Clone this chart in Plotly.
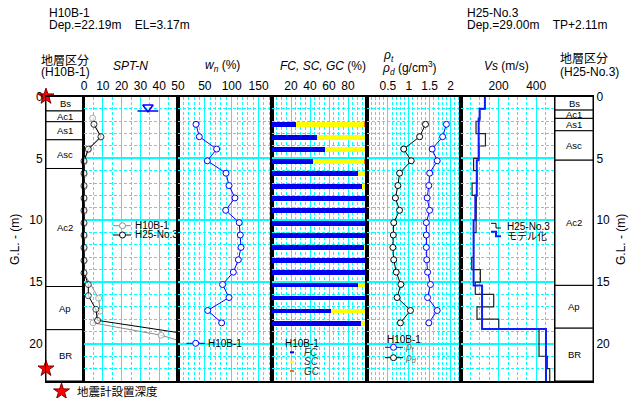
import plotly.graph_objects as go

W, H = 629, 398

# ---------------- data ----------------
depth_max = 23
depth_ticks = [0, 5, 10, 15, 20]

strata_L_names = ["Bs", "Ac1", "As1", "Asc", "Ac2", "Ap", "BR"]
strata_L_tops = [0, 1.17, 2.04, 3.5, 5.82, 15.36, 18.85]
strata_R_names = ["Bs", "Ac1", "As1", "Asc", "Ac2", "Ap", "BR"]
strata_R_tops = [0, 1.1, 1.77, 2.77, 5.15, 15.27, 18.73]

seismometer_depths = [0, 22.0]

# SPT-N
spt_h10_depth = [1.75, 2.25, 3.3, 4.3, 5.3, 6.3, 7.3, 8.3, 9.3, 10.3, 11.3, 12.3, 13.3, 14.3, 16.3, 17.35, 18.3, 19.3, 20.3]
spt_h10_N = [4.6, 5.3, 9, 2.3, 0, 0, 0, 0, 0, 0, 0, 0, 0, 0, 7.8, 8.5, 4.8, 41, 63]
spt_h25_depth = [2.25, 3.25, 4.25, 5.2, 6.2, 7.2, 8.2, 9.2, 10.2, 11.2, 12.2, 13.25, 14.25, 15.2, 16.1, 17.2, 18.1, 19.2]
spt_h25_N = [5.3, 9, 2.3, 0, 0, 0, 0, 0, 0, 0, 0, 0, 0, 2.3, 2.3, 6.3, 7.2, 55]
water_level_depth = 1.17
water_level_N = 34

# laboratory tests (H10B-1)
lab_depth = [2.25, 3.25, 4.25, 5.2, 6.2, 7.2, 8.2, 9.2, 10.2, 11.2, 12.2, 13.2, 14.2, 15.2, 16.25, 17.3, 18.3]
wn = [33.5, 39.7, 72, 54.6, 89.4, 95, 106, 88.8, 114, 116, 117.3, 112.4, 103, 83, 95, 55.3, 81.3]
FC = [25, 47, 56, 43, 91, 95, 99, 99, 99, 99, 97, 99, 99, 91, 99, 62, 94]
SC = [72, 53, 44, 54, 9, 4, 1, 1, 1, 1, 3, 1, 1, 9, 1, 38, 6]
GC = [3, 0, 0, 3, 0, 1, 0, 0, 0, 0, 0, 0, 0, 0, 0, 0, 0]
rho_t = [1.90, 1.81, 1.56, 1.68, 1.50, 1.48, 1.44, 1.50, 1.42, 1.42, 1.42, 1.43, 1.45, 1.52, 1.45, 1.68, 1.48]
rho_d = [1.40, 1.26, 0.88, 1.06, 0.78, 0.74, 0.68, 0.78, 0.64, 0.63, 0.62, 0.64, 0.70, 0.81, 0.72, 1.04, 0.80]

# Vs (H25-No.3)
vs_meas_tops = [0, 1, 2, 3, 4, 5, 6, 7, 8, 9, 10, 11, 12, 13, 14, 15, 16, 17, 18, 18.8, 21, 22]
vs_meas = [127, 100, 80, 130, 95, 67, 85, 59, 82, 82, 80, 67, 67, 57, 103, 76, 174, 85, 201, 415, 459, 472]
vs_model_tops = [0, 1.0, 1.77, 5.15, 8.0, 10.0, 15.27, 18.8]
vs_model = [127, 99, 94, 84, 76, 67, 112, 452]

# ---------------- helpers ----------------
CYAN = "#00FFFF"
DASH = "3px,2px"
FONT = "Arial, Liberation Sans, Noto Sans CJK JP, sans-serif"
JFONT = "Noto Sans CJK JP, Liberation Sans, sans-serif"


def px(x):
    return x / W


def py(y):
    return 1 - y / H


def step_xy(tops, vals, bottom):
    bots = list(tops[1:]) + [bottom]
    xs, ys = [], []
    for t, b, v in zip(tops, bots, vals):
        xs += [v, v]
        ys += [t, b]
    return xs, ys


y_dom = [py(381), py(96.5)]
edges = [46, 84, 178, 272, 367, 461, 555, 593]

fig = go.Figure()

shapes = []
annotations = []


def strata(tops, names, xr, yr, xpix):
    bots = list(tops[1:]) + [depth_max]
    for t, b, n in zip(tops, bots, names):
        shapes.append(dict(type="rect", xref=xr, yref=yr, x0=0, x1=1, y0=t, y1=b,
                           line=dict(color="black", width=1), fillcolor="white", layer="below"))
        annotations.append(dict(text=n, xref="paper", yref=yr, x=px(xpix), y=(t + b) / 2,
                                showarrow=False, font=dict(size=9.5, family=FONT, color="black"),
                                xanchor="center", yanchor="middle"))


strata(strata_L_tops, strata_L_names, "x", "y", 65)
strata(strata_R_tops, strata_R_names, "x7", "y7", 574)

# seismometer stars
fig.add_trace(go.Scatter(x=[0] * len(seismometer_depths), y=seismometer_depths, mode="markers",
                         marker=dict(symbol="star", size=12, color="red", line=dict(color="#800000", width=1)),
                         cliponaxis=False, xaxis="x", yaxis="y", showlegend=False))

# ---------- SPT-N ----------
for d, n, col in [(spt_h10_depth, spt_h10_N, "#8c8c8c"), (spt_h25_depth, spt_h25_N, "black")]:
    sizes = [6 if v <= 50 else 0 for v in n]
    fig.add_trace(go.Scatter(x=n, y=d, mode="lines+markers", xaxis="x2", yaxis="y2",
                             line=dict(color=col, width=1),
                             marker=dict(symbol="circle", size=sizes, color="white", line=dict(color=col, width=1)),
                             cliponaxis=False, showlegend=False))
# water level
fig.add_trace(go.Scatter(x=[water_level_N - 5.5, water_level_N + 5.5], y=[water_level_depth] * 2, mode="lines",
                         line=dict(color="blue", width=1.5), xaxis="x2", yaxis="y2", showlegend=False))
fig.add_trace(go.Scatter(x=[water_level_N], y=[water_level_depth - 0.3], mode="markers",
                         marker=dict(symbol="triangle-down-open", size=9, color="blue", line=dict(width=1.5)),
                         xaxis="x2", yaxis="y2", showlegend=False))

# ---------- wn ----------
fig.add_trace(go.Scatter(x=wn, y=lab_depth, mode="lines+markers", xaxis="x3", yaxis="y3",
                         line=dict(color="blue", width=1),
                         marker=dict(size=6, color="white", line=dict(color="blue", width=1)),
                         cliponaxis=False, showlegend=False))

# ---------- FC SC GC ----------
for vals, col in [(FC, "#0000F0"), (SC, "#FFFF00"), (GC, "#FF6A00")]:
    fig.add_trace(go.Bar(x=vals, y=lab_depth, orientation="h", width=0.4, marker=dict(color=col, line=dict(width=0)),
                         xaxis="x4", yaxis="y4", showlegend=False))

# ---------- rho ----------
for vals, col in [(rho_d, "black"), (rho_t, "blue")]:
    fig.add_trace(go.Scatter(x=vals, y=lab_depth, mode="lines+markers", xaxis="x5", yaxis="y5",
                             line=dict(color=col, width=1),
                             marker=dict(size=6, color="white", line=dict(color=col, width=1)),
                             cliponaxis=False, showlegend=False))

# ---------- Vs ----------
mx, my = step_xy(vs_meas_tops, vs_meas, depth_max)
fig.add_trace(go.Scatter(x=mx, y=my, mode="lines", line=dict(color="#202020", width=1.2),
                         xaxis="x6", yaxis="y6", showlegend=False))
bx, by = step_xy(vs_model_tops, vs_model, depth_max)
fig.add_trace(go.Scatter(x=bx, y=by, mode="lines", line=dict(color="#0A1EFF", width=2),
                         xaxis="x6", yaxis="y6", showlegend=False))


# ---------- legend samples (overlay pixel axis) ----------
def leg_line(x0, x1, y, col, w=1, marker=None):
    fig.add_trace(go.Scatter(x=[x0, x1], y=[y, y], mode="lines", line=dict(color=col, width=w),
                             xaxis="x8", yaxis="y8", showlegend=False, cliponaxis=False))
    if marker is not None:
        fig.add_trace(go.Scatter(x=[marker], y=[y], mode="markers",
                                 marker=dict(size=6, color="white", line=dict(color=col, width=1)),
                                 xaxis="x8", yaxis="y8", showlegend=False, cliponaxis=False))


leg_line(113, 131, 225.7, "#8c8c8c", 1, 122.5)
leg_line(113, 131, 235, "black", 1, 122.5)
leg_line(186.5, 205, 343.3, "blue", 1, 195.7)
leg_line(290, 294, 352.3, "#0000F0", 2)
leg_line(290, 294, 361.7, "#FFFF00", 2)
leg_line(290, 294, 371, "#FF6A00", 2)
leg_line(385, 403, 347.3, "blue", 1, 393.5)
leg_line(385, 403, 357.7, "black", 1, 393.5)
fig.add_trace(go.Scatter(x=[491, 496, 496, 501], y=[223.3, 223.3, 228, 228], mode="lines",
                         line=dict(color="black", width=1), xaxis="x8", yaxis="y8", showlegend=False))
fig.add_trace(go.Scatter(x=[491, 496, 496, 501], y=[231.7, 231.7, 236.3, 236.3], mode="lines",
                         line=dict(color="#0A1EFF", width=2), xaxis="x8", yaxis="y8", showlegend=False))
fig.add_trace(go.Scatter(x=[61.5], y=[391.5], mode="markers",
                         marker=dict(symbol="star", size=12, color="red", line=dict(color="#800000", width=1)),
                         xaxis="x8", yaxis="y8", showlegend=False, cliponaxis=False))


def ann(text, x, y, size=12, xanchor="center", color="black", family=FONT, angle=0):
    annotations.append(dict(text=text, xref="paper", yref="paper", x=px(x), y=py(y), showarrow=False,
                            xanchor=xanchor, yanchor="middle", textangle=angle,
                            font=dict(size=size, color=color, family=family)))


NB = "\u00a0"
ann("H10B-1", 46.5, 13, xanchor="left")
ann("Dep.=22.19m" + NB * 4 + "EL=3.17m", 46.5, 25, xanchor="left")
ann("H25-No.3", 465, 13, xanchor="left")
ann("Dep.=29.00m" + NB * 4 + "TP+2.11m", 465, 25, xanchor="left")

ann("地層区分", 65, 59, family=JFONT)
ann("(H10B-1)", 65, 71.5)
ann("<i>SPT-N</i>", 130, 66)
ann("<i>w</i><sub><i>n</i></sub> (%)", 222, 66)
ann("<i>FC, SC, GC</i> (%)", 322.5, 66)
ann("<i>ρ<sub>t</sub></i>", 381, 56, xanchor="left")
ann("<i>ρ<sub>d</sub></i> (g/cm<sup>3</sup>)", 380, 68, xanchor="left")
ann("<i>Vs</i> (m/s)", 506, 66)
ann("地層区分", 558, 58, xanchor="left", family=JFONT)
ann("(H25-No.3)", 557.5, 72, xanchor="left")

ann("G.L. - (m)", 15, 240, angle=-90)
ann("G.L. - (m)", 621, 240, angle=-90)

ann("H10B-1", 132.5, 225.7, size=10, xanchor="left")
ann("H25-No.3", 132.5, 235, size=10, xanchor="left")
ann("H10B-1", 205.5, 343.3, size=10, xanchor="left")
ann("H10B-1", 283, 343.3, size=10, xanchor="left")
ann("<i>FC</i>", 301.5, 352.3, size=10, xanchor="left", color="#333")
ann("<i>SC</i>", 301.5, 361.7, size=10, xanchor="left", color="#333")
ann("<i>GC</i>", 301.5, 371, size=10, xanchor="left", color="#333")
ann("H10B-1", 384.5, 339, size=10, xanchor="left")
ann("<i>ρ<sub>t</sub></i>", 403, 347.3, size=10, xanchor="left", color="#666")
ann("<i>ρ<sub>d</sub></i>", 403, 357.7, size=10, xanchor="left", color="#666")
ann("H25-No.3", 504.5, 226.5, size=10, xanchor="left")
ann("モデル化", 504.5, 235.5, size=10, xanchor="left", family=JFONT)
ann("地震計設置深度", 74.5, 390.5, size=11.5, xanchor="left", family=JFONT)

# ---------------- axes ----------------
layout = dict(template="none", width=W, height=H, margin=dict(l=0, r=0, t=0, b=0, pad=0), autosize=False,
              paper_bgcolor="white", plot_bgcolor="rgba(0,0,0,0)", barmode="stack", bargap=0, showlegend=False,
              font=dict(family=FONT, size=12, color="black"))


def fmt(v):
    return ("%g" % v)


def data_x(i, rng, tickvals, minor):
    return dict(domain=[px(edges[i - 1]), px(edges[i])], range=rng, anchor="y%d" % i, side="top",
                tickmode="array", tickvals=tickvals, ticktext=[fmt(v) for v in tickvals],
                showgrid=True, gridcolor=CYAN, gridwidth=1,
                minor=dict(dtick=minor, tick0=0, showgrid=True, gridcolor=CYAN, griddash=DASH, gridwidth=1),
                showline=True, mirror=True, linecolor="black", linewidth=2, ticks="", zeroline=False,
                tickfont=dict(size=12, color="black"), fixedrange=True, automargin=False)


def data_y(i):
    return dict(domain=y_dom, range=[depth_max, 0], anchor="x%d" % i, tickmode="array",
                tickvals=[5, 10, 15, 20], showticklabels=False,
                showgrid=True, gridcolor=CYAN, gridwidth=2,
                minor=dict(dtick=1, tick0=0, showgrid=True, gridcolor=CYAN, griddash=DASH, gridwidth=1),
                showline=True, mirror=True, linecolor="black", linewidth=2, ticks="", zeroline=False,
                automargin=False, fixedrange=True)


layout["xaxis"] = dict(domain=[px(46), px(84)], range=[0, 1], anchor="y", showticklabels=False, showgrid=False,
                       zeroline=False, showline=True, mirror=True, linecolor="black", linewidth=2, ticks="",
                       automargin=False)
layout["yaxis"] = dict(domain=y_dom, range=[depth_max, 0], anchor="x", tickmode="array", tickvals=depth_ticks,
                       showgrid=False, zeroline=False, showline=True, mirror=True, linecolor="black", linewidth=1,
                       ticks="", tickfont=dict(size=12, color="black"), automargin=False)
layout["xaxis2"] = data_x(2, [0, 50], [0, 10, 20, 30, 40, 50], 5)
layout["xaxis3"] = data_x(3, [0, 175], [50, 100, 150], 10)
layout["xaxis4"] = data_x(4, [0, 100], [20, 40, 60, 80], 5)
layout["xaxis5"] = data_x(5, [0, 2.25], [0.5, 1, 1.5, 2], 0.1)
layout["xaxis6"] = data_x(6, [0, 500], [200, 400], 50)
for i in range(2, 7):
    layout["yaxis%d" % i] = data_y(i)
layout["xaxis7"] = dict(domain=[px(555), px(593)], range=[0, 1], anchor="y7", showticklabels=False, showgrid=False,
                        zeroline=False, showline=True, mirror=True, linecolor="black", linewidth=2, ticks="",
                        automargin=False)
layout["yaxis7"] = dict(domain=y_dom, range=[depth_max, 0], anchor="x7", side="right", tickmode="array",
                        tickvals=depth_ticks, showgrid=False, zeroline=False, showline=True, mirror=True,
                        linecolor="black", linewidth=1, ticks="", tickfont=dict(size=12, color="black"),
                        automargin=False)
layout["xaxis8"] = dict(domain=[0, 1], range=[0, W], anchor="y8", visible=False, fixedrange=True, automargin=False)
layout["yaxis8"] = dict(domain=[0, 1], range=[H, 0], anchor="x8", visible=False, fixedrange=True, automargin=False)
layout["shapes"] = shapes
layout["annotations"] = annotations

fig.update_layout(**layout)
fig.write_html("out.html")
